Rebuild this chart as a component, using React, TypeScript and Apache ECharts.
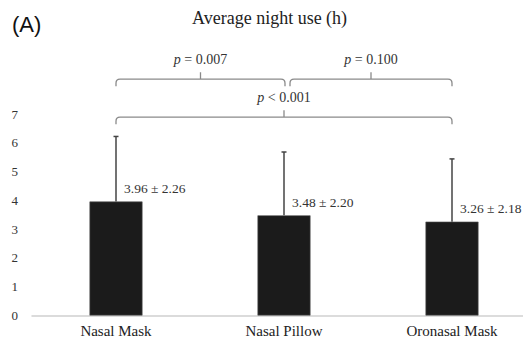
import React, { useEffect, useRef } from "react";
import * as echarts from "echarts";

const categories = ["Nasal Mask", "Nasal Pillow", "Oronasal Mask"];
const means = [3.96, 3.48, 3.26];
const sds = [2.26, 2.2, 2.18];
const yMin = 0;
const yMax = 7;
const yInterval = 1;
// comparisons: from category index, to category index, bracket level (axis units), operator, p value
const compFrom = [0, 1, 0];
const compTo = [1, 2, 2];
const compLevel = [8.21, 8.21, 6.89];
const compOp = ["=", "=", "<"];
const compP = ["0.007", "0.100", "0.001"];

const SERIF = "Liberation Serif";

export default function App() {
  const ref = useRef<HTMLDivElement>(null);
  useEffect(() => {
    if (!ref.current) return;
    const chart = echarts.init(ref.current, null, { renderer: "svg" });
    const option: any = {
      animation: false,
      backgroundColor: "#ffffff",
      grid: {
        left: 32,
        width: 504,
        top: 114,
        bottom: 24.5,
        containLabel: false,
        outerBoundsMode: "none",
      },
      title: {
        text: "Average night use (h)",
        left: 187,
        top: 4,
        textStyle: {
          fontFamily: SERIF,
          fontSize: 18,
          fontWeight: "normal",
          color: "#222",
        },
      },
      graphic: [
        {
          type: "text",
          x: 12,
          y: 24,
          style: {
            text: "(A)",
            fontFamily: "Liberation Sans",
            fontSize: 22,
            fill: "#111",
            align: "left",
            verticalAlign: "middle",
          },
        },
      ],
      xAxis: {
        type: "category",
        data: categories,
        axisLine: { show: true, lineStyle: { color: "#d0d0d0", width: 1.5 } },
        axisTick: { show: false },
        axisLabel: { fontFamily: SERIF, fontSize: 15, color: "#222", margin: 8 },
      },
      yAxis: {
        type: "value",
        min: yMin,
        max: yMax,
        interval: yInterval,
        axisLine: { show: false },
        axisTick: { show: false },
        splitLine: { show: false },
        axisLabel: { fontFamily: SERIF, fontSize: 13, color: "#333", margin: 14 },
      },
      series: [
        {
          type: "bar",
          data: means,
          barWidth: 53,
          itemStyle: { color: "#1b1b1b", borderColor: "#555", borderWidth: 0.6 },
          z: 2,
        },
        {
          type: "custom",
          z: 3,
          data: categories.map((_, i) => [i, means[i], sds[i]]),
          renderItem: (params: any, api: any) => {
            const i = api.value(0);
            const m = api.value(1);
            const s = api.value(2);
            const base = api.coord([i, m]);
            const top = api.coord([i, m + s]);
            const x = base[0];
            return {
              type: "group",
              children: [
                {
                  type: "line",
                  shape: { x1: x, y1: base[1], x2: x, y2: top[1] },
                  style: { stroke: "#444", lineWidth: 1.5 },
                },
                {
                  type: "line",
                  shape: { x1: x - 2.5, y1: top[1], x2: x + 2.5, y2: top[1] },
                  style: { stroke: "#444", lineWidth: 1.5 },
                },
                {
                  type: "text",
                  x: x + 8,
                  y: base[1] - 13,
                  style: {
                    text: `${m.toFixed(2)} ± ${s.toFixed(2)}`,
                    fontFamily: SERIF,
                    fontSize: 13.5,
                    fill: "#333",
                    align: "left",
                    verticalAlign: "middle",
                  },
                },
              ],
            };
          },
        },
        {
          type: "custom",
          z: 3,
          clip: false,
          data: compFrom.map((f, k) => [f, compLevel[k], compTo[k]]),
          encode: { x: 0, y: 1 },
          renderItem: (params: any, api: any) => {
            const k = params.dataIndex;
            const i0 = api.value(0);
            const lvl = api.value(1);
            const i1 = api.value(2);
            const p0 = api.coord([i0, lvl]);
            const p1 = api.coord([i1, lvl]);
            const x0 = p0[0] + (i0 === 1 ? 6 : 0);
            const x1 = p1[0] + (i1 === 1 ? 1 : 0);
            const y = p0[1];
            const r = 4;
            const drop = 7;
            const tick = 7;
            const xm = (x0 + x1) / 2;
            const d =
              `M ${x0} ${y + drop} L ${x0} ${y + r} Q ${x0} ${y} ${x0 + r} ${y} ` +
              `L ${x1 - r} ${y} Q ${x1} ${y} ${x1} ${y + r} L ${x1} ${y + drop} ` +
              `M ${xm} ${y} L ${xm} ${y - tick}`;
            return {
              type: "group",
              children: [
                {
                  type: "path",
                  shape: { pathData: d },
                  style: { stroke: "#8a8a8a", lineWidth: 1.3, fill: "none" },
                },
                {
                  type: "text",
                  x: xm,
                  y: y - 20,
                  style: {
                    text: `{i|p} ${compOp[k]} ${compP[k]}`,
                    rich: {
                      i: { fontStyle: "italic", fontFamily: SERIF, fontSize: 14, fill: "#333" },
                    },
                    fontFamily: SERIF,
                    fontSize: 14,
                    fill: "#333",
                    align: "center",
                    verticalAlign: "middle",
                  },
                },
              ],
            };
          },
        },
      ],
    };
    chart.setOption(option);
    return () => chart.dispose();
  }, []);
  return (
    <div
      ref={ref}
      style={{ position: "fixed", left: 0, top: 0, width: 523, height: 340 }}
    />
  );
}
